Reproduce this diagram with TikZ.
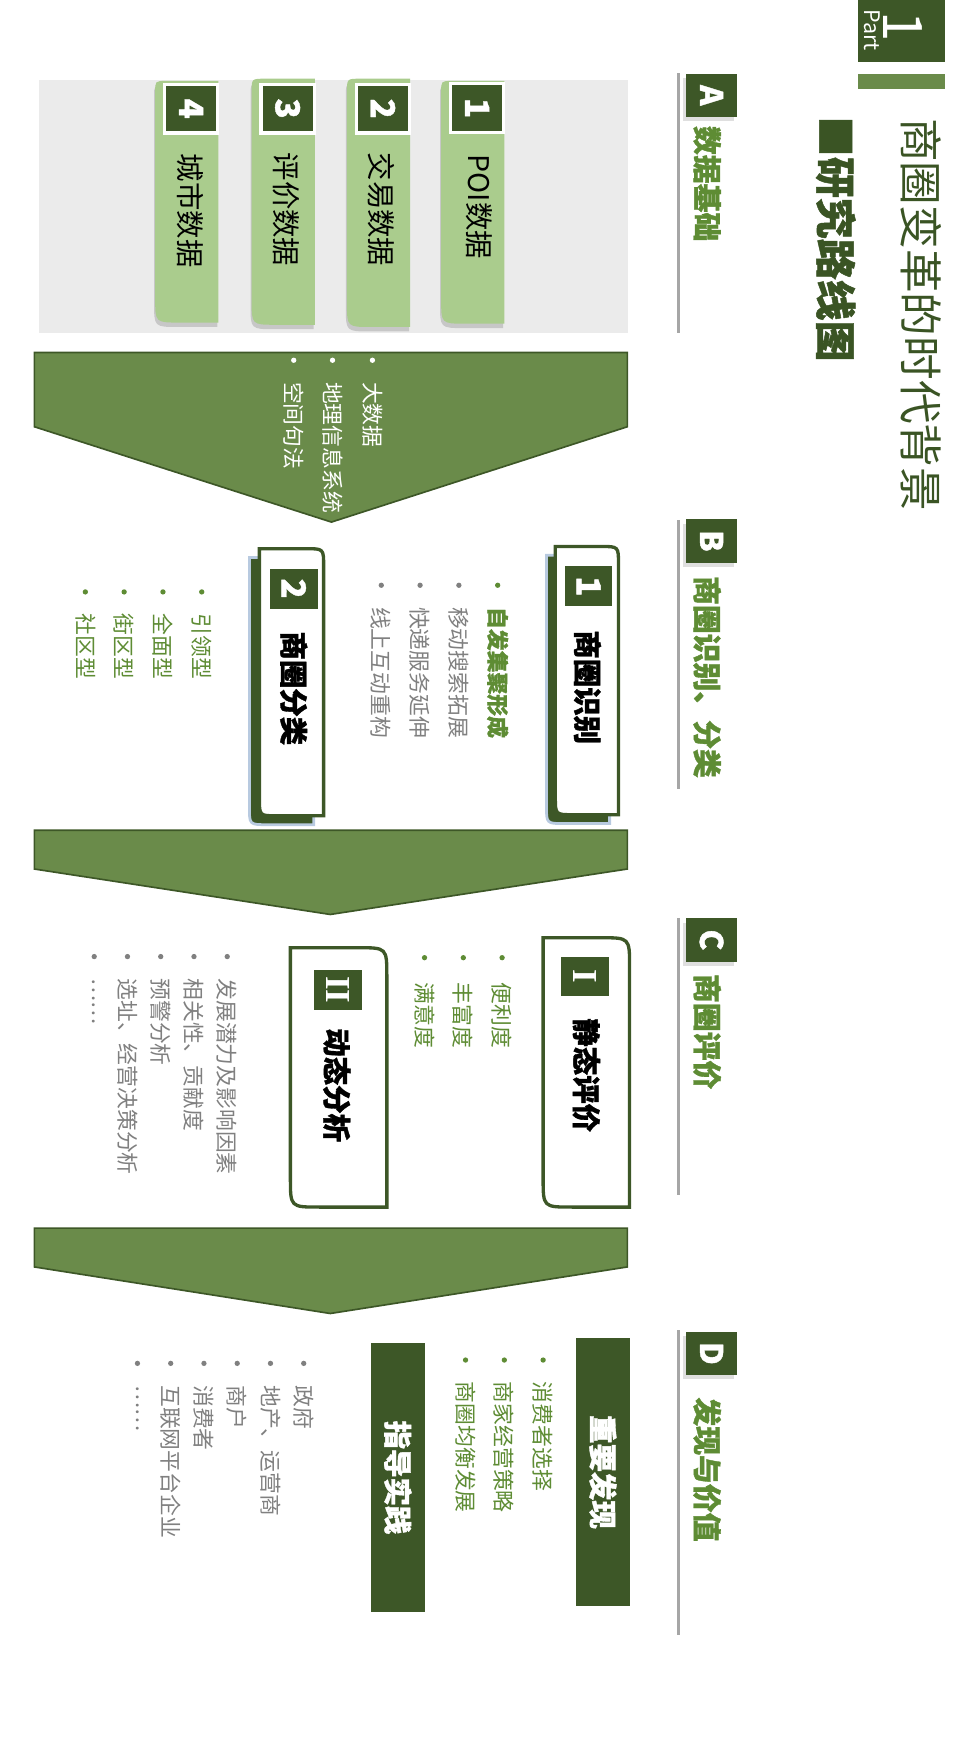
\documentclass[tikz,border=0pt]{standalone}
\usepackage{fontspec}
\setmainfont{Noto Sans CJK SC}[BoldFeatures={FakeBold=1.2}]
\newfontfamily\romanNum{Liberation Serif}
\usetikzlibrary{shadows}
\definecolor{darkGreen}{RGB}{61,87,39}
\definecolor{titleGreen}{RGB}{58,84,36}
\definecolor{midGreen}{RGB}{106,139,74}
\definecolor{tabGreen}{RGB}{170,204,141}
\definecolor{txtGreen}{RGB}{94,140,52}
\definecolor{txtGray}{RGB}{128,128,128}
\definecolor{panelGray}{RGB}{235,235,235}
\definecolor{lineGray}{RGB}{166,166,166}
\definecolor{shadowBlue}{RGB}{184,202,224}
\newcommand{\fsz}[1]{\fontsize{#1}{#1}\selectfont}

\tikzset{
  vtext/.style={rotate=-90, inner sep=0pt},
  secBox/.style={vtext, fill=darkGreen, text=white, font=\bfseries\fsz{8pt},
    minimum width=3.9mm, minimum height=4.6mm,
    drop shadow={opacity=.25, shadow xshift=-.25mm, shadow yshift=-.4mm}},
  secText/.style={vtext, anchor=west, text=txtGreen, font=\bfseries\fsz{7.4pt}},
  sideLine/.style={draw=lineGray, line width=.3mm},
  tabFill/.style={fill=tabGreen},
  tabShadow/.style={fill=black, opacity=.15, shift={(-1,4)}},
  tabNum/.style={vtext, fill=darkGreen, draw=white, line width=.3mm, text=white,
    font=\bfseries\fsz{8.5pt}, minimum width=4.4mm, minimum height=4.8mm},
  tabText/.style={vtext, anchor=west, font=\fsz{7.3pt}},
  chevron/.style={fill=midGreen, draw=darkGreen, line width=.15mm},
  cardFrame/.style={fill=white, draw=darkGreen, line width=.3mm},
  cardShadow/.style={fill=darkGreen, draw=shadowBlue, line width=.25mm},
  cardNum/.style={vtext, fill=darkGreen, text=white, font=\bfseries\fsz{8.5pt},
    minimum width=3.6mm, minimum height=4.3mm},
  cardTitle/.style={vtext, anchor=west, font=\bfseries\fsz{7.3pt}},
  darkBox/.style={vtext, fill=darkGreen, text=white, font=\bfseries\fsz{7.3pt},
    minimum width=24.2mm, minimum height=4.8mm},
  bulGreen/.style={vtext, anchor=west, text=txtGreen, font=\fsz{5.6pt}},
  bulGray/.style={vtext, anchor=west, text=txtGray, font=\fsz{5.6pt}},
  bulWhite/.style={vtext, anchor=west, text=white, font=\fsz{5.6pt}},
}

\begin{document}
\begin{tikzpicture}[x=0.1mm, y=-0.1mm]
  \useasboundingbox (0,0) rectangle (875,1568);

  % part label
  \fill[darkGreen] (774,0) rectangle (853,56);
  \node[vtext, text=white, font=\fsz{14pt}] (partNum) at (815,24) {1};
  \node[vtext, text=white, font=\fsz{5.5pt}] (partWord) at (787,27) {Part};
  \fill[midGreen] (774,67) rectangle (853,80);

  % titles
  \node[vtext, anchor=west, text=titleGreen, font=\fsz{11.2pt}] (mainTitle) at (831,106) {商圈变革的时代背景};
  \node[vtext, anchor=west, text=titleGreen, font=\bfseries\fsz{10.5pt}] (subTitle) at (754,104) {■研究路线图};

  % section headers
  \draw[sideLine] (612,66) -- (612,300);
  \node[secBox] (secA) at (642,86) {A};
  \node[secText] (secAtxt) at (638,113) {数据基础};
  \draw[sideLine] (612,469) -- (612,712);
  \node[secBox] (secB) at (642,488) {B};
  \node[secText] (secBtxt) at (638,519) {商圈识别、分类};
  \draw[sideLine] (612,828) -- (612,1078);
  \node[secBox] (secC) at (642,848) {C};
  \node[secText] (secCtxt) at (638,878) {商圈评价};
  \draw[sideLine] (612,1200) -- (612,1475);
  \node[secBox] (secD) at (642,1221) {D};
  \node[secText] (secDtxt) at (638,1260) {发现与价值};

  % data panel with the four tabs
  \fill[panelGray] (35,72) rectangle (567,300);
  \path[tabShadow] (455,73) -- (455,292) -- (420,292) .. controls (398,292) .. (398,270) -- (398,83) .. controls (398,73) .. (408,73) -- cycle;
  \path[tabFill] (455,73) -- (455,292) -- (420,292) .. controls (398,292) .. (398,270) -- (398,83) .. controls (398,73) .. (408,73) -- cycle;
  \path[tabShadow] (370,71) -- (370,295) -- (335,295) .. controls (313,295) .. (313,273) -- (313,83) .. controls (313,71) .. (325,71) -- cycle;
  \path[tabFill] (370,71) -- (370,295) -- (335,295) .. controls (313,295) .. (313,273) -- (313,83) .. controls (313,71) .. (325,71) -- cycle;
  \path[tabShadow] (284,71) -- (284,293) -- (249,293) .. controls (227,293) .. (227,271) -- (227,83) .. controls (227,71) .. (239,71) -- cycle;
  \path[tabFill] (284,71) -- (284,293) -- (249,293) .. controls (227,293) .. (227,271) -- (227,83) .. controls (227,71) .. (239,71) -- cycle;
  \path[tabShadow] (197,73) -- (197,291) -- (162,291) .. controls (140,291) .. (140,269) -- (140,83) .. controls (140,73) .. (150,73) -- cycle;
  \path[tabFill] (197,73) -- (197,291) -- (162,291) .. controls (140,291) .. (140,269) -- (140,83) .. controls (140,73) .. (150,73) -- cycle;
  \node[tabNum] (tab1) at (430.5,97.5) {1};
  \node[tabNum] (tab2) at (345.5,98) {2};
  \node[tabNum] (tab3) at (259.5,98) {3};
  \node[tabNum] (tab4) at (172.5,98) {4};
  \node[tabText] (tab1Txt) at (432,139) {POI数据};
  \node[tabText] (tab2Txt) at (344,137) {交易数据};
  \node[tabText] (tab3Txt) at (258,137) {评价数据};
  \node[tabText] (tab4Txt) at (172,138) {城市数据};

  % first arrow with methods
  \path[chevron] (31,318) -- (566,318) -- (566,385) -- (299,471) -- (31,385) -- cycle;
  \fill[white] (336,325) circle[radius=2.4];
  \node[bulWhite] (methA) at (336,344) {大数据};
  \fill[white] (300,325) circle[radius=2.4];
  \node[bulWhite] (methB) at (300,344) {地理信息系统};
  \fill[white] (265,325) circle[radius=2.4];
  \node[bulWhite] (methC) at (265,344) {空间句法};

  % card 1: recognition
  \path[cardShadow, shift={(-8,8)}] (501,493) -- (542,493) .. controls (558,493) .. (558,509) -- (558,735) -- (517,735) .. controls (501,735) .. (501,719) -- cycle;
  \path[cardFrame] (501,493) -- (542,493) .. controls (558,493) .. (558,509) -- (558,735) -- (517,735) .. controls (501,735) .. (501,719) -- cycle;
  \node[cardNum] (recogNum) at (531,529) {1};
  \node[cardTitle] (recogTitle) at (530,568) {商圈识别};
  \fill[txtGreen] (449,528) circle[radius=2.4];
  \node[bulGreen, font=\bfseries\fsz{5.6pt}] (recogA) at (449,547) {自发集聚形成};
  \fill[txtGray] (414,528) circle[radius=2.4];
  \node[bulGray] (recogB) at (414,547) {移动搜索拓展};
  \fill[txtGray] (379,528) circle[radius=2.4];
  \node[bulGray] (recogC) at (379,547) {快递服务延伸};
  \fill[txtGray] (344,528) circle[radius=2.4];
  \node[bulGray] (recogD) at (344,547) {线上互动重构};

  % card 2: classification
  \path[cardShadow, shift={(-9,8)}] (234,495) -- (276,495) .. controls (292,495) .. (292,511) -- (292,736) -- (250,736) .. controls (234,736) .. (234,720) -- cycle;
  \path[cardFrame] (234,495) -- (276,495) .. controls (292,495) .. (292,511) -- (292,736) -- (250,736) .. controls (234,736) .. (234,720) -- cycle;
  \node[cardNum] (classNum) at (265,531) {2};
  \node[cardTitle] (classTitle) at (265,569) {商圈分类};
  \fill[txtGreen] (182,534) circle[radius=2.4];
  \node[bulGreen] (classA) at (182,553) {引领型};
  \fill[txtGreen] (147,534) circle[radius=2.4];
  \node[bulGreen] (classB) at (147,553) {全面型};
  \fill[txtGreen] (112,534) circle[radius=2.4];
  \node[bulGreen] (classC) at (112,553) {街区型};
  \fill[txtGreen] (77,534) circle[radius=2.4];
  \node[bulGreen] (classD) at (77,553) {社区型};

  % second arrow
  \path[chevron] (31,749) -- (566,749) -- (566,784) -- (298,825) -- (31,784) -- cycle;

  % card I: static evaluation
  \path[cardFrame] (490,846) -- (542,846) .. controls (568,846) .. (568,872) -- (568,1089) -- (516,1089) .. controls (490,1089) .. (490,1063) -- cycle;
  \node[cardNum, font=\romanNum\bfseries\fsz{9pt}] (staticNum) at (528,881) {I};
  \node[cardTitle] (staticTitle) at (529,918) {静态评价};
  \fill[txtGreen] (453,864) circle[radius=2.4];
  \node[bulGreen] (staticA) at (453,886) {便利度};
  \fill[txtGreen] (418,864) circle[radius=2.4];
  \node[bulGreen] (staticB) at (418,886) {丰富度};
  \fill[txtGreen] (383,864) circle[radius=2.4];
  \node[bulGreen] (staticC) at (383,886) {满意度};

  % card II: dynamic analysis
  \path[cardFrame] (262,855) -- (323,855) .. controls (349,855) .. (349,881) -- (349,1089) -- (288,1089) .. controls (262,1089) .. (262,1063) -- cycle;
  \node[cardNum, font=\romanNum\bfseries\fsz{9pt}] (dynNum) at (305,893) {II};
  \node[cardTitle] (dynTitle) at (304,927) {动态分析};
  \fill[txtGray] (205,863) circle[radius=2.4];
  \node[bulGray] (dynA) at (205,882) {发展潜力及影响因素};
  \fill[txtGray] (175,863) circle[radius=2.4];
  \node[bulGray] (dynB) at (175,882) {相关性、贡献度};
  \fill[txtGray] (145,863) circle[radius=2.4];
  \node[bulGray] (dynC) at (145,882) {预警分析};
  \fill[txtGray] (115,863) circle[radius=2.4];
  \node[bulGray] (dynD) at (115,882) {选址、经营决策分析};
  \fill[txtGray] (85,863) circle[radius=2.4];
  \node[bulGray] (dynE) at (85,882) {……};

  % third arrow
  \path[chevron] (31,1108) -- (566,1108) -- (566,1143) -- (298,1185) -- (31,1143) -- cycle;

  % findings and practice
  \node[darkBox] (findBox) at (544,1328) {重要发现};
  \fill[txtGreen] (490,1227) circle[radius=2.4];
  \node[bulGreen] (findA) at (490,1246) {消费者选择};
  \fill[txtGreen] (455,1227) circle[radius=2.4];
  \node[bulGreen] (findB) at (455,1246) {商家经营策略};
  \fill[txtGreen] (420,1227) circle[radius=2.4];
  \node[bulGreen] (findC) at (420,1246) {商圈均衡发展};

  \node[darkBox] (guideBox) at (359,1333) {指导实践};
  \fill[txtGray] (274,1230) circle[radius=2.4];
  \node[bulGray] (guideA) at (274,1249) {政府};
  \fill[txtGray] (244,1230) circle[radius=2.4];
  \node[bulGray] (guideB) at (244,1249) {地产、运营商};
  \fill[txtGray] (214,1230) circle[radius=2.4];
  \node[bulGray] (guideC) at (214,1249) {商户};
  \fill[txtGray] (184,1230) circle[radius=2.4];
  \node[bulGray] (guideD) at (184,1249) {消费者};
  \fill[txtGray] (154,1230) circle[radius=2.4];
  \node[bulGray] (guideE) at (154,1249) {互联网平台企业};
  \fill[txtGray] (124,1230) circle[radius=2.4];
  \node[bulGray] (guideF) at (124,1249) {……};

\end{tikzpicture}
\end{document}
